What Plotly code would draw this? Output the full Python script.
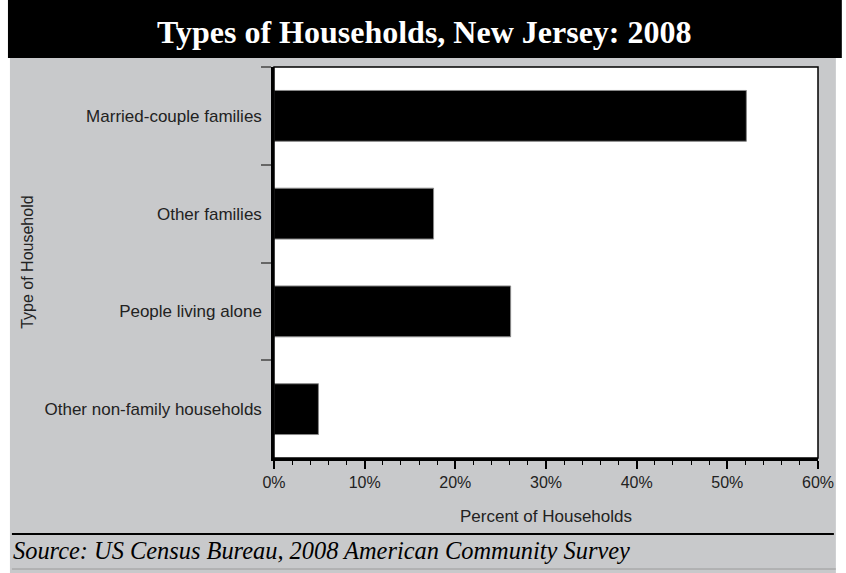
import plotly.graph_objects as go

categories = ["Married-couple families", "Other families", "People living alone", "Other non-family households"]
values = [52.1, 17.6, 26.1, 4.9]
x_ticks = [0, 10, 20, 30, 40, 50, 60]
x_tick_labels = ["0%", "10%", "20%", "30%", "40%", "50%", "60%"]

W, H = 846, 573
L, R, T, B = 274, 822, 67, 458

def px(x):
    return (x - L) / (R - L)

def py(y):
    return (B - y) / (B - T)

fig = go.Figure()
fig.add_trace(go.Bar(
    y=categories, x=values, orientation="h", width=0.52,
    marker=dict(color="black", line=dict(color="#888888", width=1)),
    hoverinfo="x+y",
))

GRAY = "#c8c9cb"
shapes = [
    dict(type="rect", xref="paper", yref="paper", x0=px(8), x1=px(840), y0=py(573), y1=py(58),
         fillcolor=GRAY, line=dict(width=0), layer="below"),
    dict(type="rect", xref="paper", yref="paper", x0=px(6), x1=px(846), y0=py(58), y1=py(0),
         fillcolor="black", line=dict(width=0), layer="below"),
    dict(type="rect", xref="paper", yref="paper", x0=0, x1=1, y0=0, y1=1,
         fillcolor="white", line=dict(width=0), layer="below"),
    dict(type="rect", xref="paper", yref="paper", x0=0, x1=1, y0=0, y1=1,
         line=dict(color="black", width=1.5), layer="above"),
    dict(type="line", xref="paper", yref="paper", x0=px(10), x1=px(838), y0=py(534), y1=py(534),
         line=dict(color="black", width=2)),
    dict(type="line", xref="paper", yref="paper", x0=px(10), x1=px(840), y0=py(569), y1=py(569),
         line=dict(color="#9a9a9a", width=1)),
]

annotations = [
    dict(text="<b>Types of Households, New Jersey: 2008</b>", xref="paper", yref="paper",
         x=px(426), y=py(32), xanchor="center", yanchor="middle", showarrow=False,
         font=dict(family="Liberation Serif, Times New Roman, serif", size=32, color="white")),
    dict(text="<i>Source: US Census Bureau, 2008 American Community Survey</i>", xref="paper", yref="paper",
         x=px(9), y=py(550), xanchor="left", yanchor="middle", showarrow=False,
         font=dict(family="Liberation Serif, Times New Roman, serif", size=24.4, color="black")),
    dict(text="Percent of Households", xref="paper", yref="paper",
         x=px(548), y=py(516), xanchor="center", yanchor="middle", showarrow=False,
         font=dict(family="Liberation Sans, Arial, sans-serif", size=17, color="#222222")),
    dict(text="Type of Household", xref="paper", yref="paper", textangle=-90,
         x=px(25), y=py(262), xanchor="center", yanchor="middle", showarrow=False,
         font=dict(family="Liberation Sans, Arial, sans-serif", size=16, color="#222222")),
]

fig.update_layout(
    width=W, height=H,
    margin=dict(l=L, r=W - R, t=T, b=H - B, pad=0),
    paper_bgcolor="white", plot_bgcolor="white",
    showlegend=False,
    shapes=shapes, annotations=annotations,
    font=dict(family="Liberation Sans, Arial, sans-serif", color="#222222"),
    xaxis=dict(range=[0, 60], tickvals=x_ticks, ticktext=x_tick_labels,
               ticks="outside", ticklen=8, tickwidth=1.5, tickcolor="black",
               minor=dict(dtick=2, ticks="outside", ticklen=4, tickwidth=1.2, tickcolor="black"),
               showgrid=False, zeroline=False, showline=True, linecolor="black", linewidth=2.5,
               tickfont=dict(size=16, color="#222222"), fixedrange=True),
    yaxis=dict(categoryorder="array", categoryarray=categories, autorange="reversed",
               ticks="outside", tickson="boundaries", ticklen=10, tickwidth=1.5, tickcolor="#666666",
               showgrid=False, zeroline=False, showline=True, linecolor="black", linewidth=2.5,
               ticklabelstandoff=6,
               tickfont=dict(size=17, color="#222222"), fixedrange=True),
)

fig.write_html("out.html", config={"displayModeBar": False},
               post_script="document.body.style.margin='0';document.body.style.overflow='hidden';")
